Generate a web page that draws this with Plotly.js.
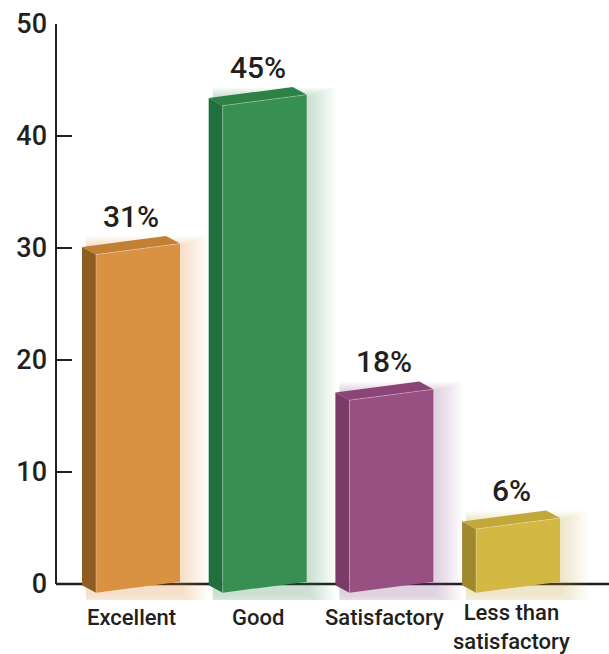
<!DOCTYPE html>
<html>
<head>
<meta charset="utf-8">
<script src="https://cdn.plot.ly/plotly-3.0.1.min.js"></script>
<style>html,body{margin:0;padding:0;background:#fff;}#chart{width:609px;height:654px;}</style>
</head>
<body>
<div id="chart"></div>
<script>
// ---- data ----
const categories = ['Excellent', 'Good', 'Satisfactory', 'Less than\nsatisfactory'];
const percentLabels = [31, 45, 18, 6];            // printed labels above bars
const barHeights = [29.9, 43.2, 16.9, 5.4];       // drawn height of bar fronts on the axis
const yTicks = [0, 10, 20, 30, 40, 50];

// ---- colours ----
const frontColors = ['#D99142', '#378F52', '#984F82', '#D3B844'];
const sideColors  = ['#8F5C24', '#1F703C', '#793A67', '#9E892E'];
const topColors   = ['#C18034', '#2D8046', '#8A4476', '#C2A73A'];
const glowRGB     = ['217,145,66', '55,143,82', '152,79,130', '211,184,68'];
const ink = '#231f20';

// ---- geometry helpers (pixel sizes converted into axis units) ----
const PXX = 126.7, PXY = 11.2;
const ux = p => p / PXX, uy = p => p / PXY;
const FL = ux(35), FR = ux(49), SL = uy(5.5), YB = -uy(3.25), DX = -ux(14), DY = uy(7.6);

const traces = [];
function poly(xs, ys, fill) {
  traces.push({
    type: 'scatter', mode: 'lines', x: xs.concat([xs[0]]), y: ys.concat([ys[0]]),
    fill: 'toself', fillcolor: fill, line: {width: 0, color: fill},
    hoverinfo: 'skip', showlegend: false
  });
}

barHeights.forEach((h, i) => {
  const l = i - FL, r = i + FR;
  // soft glow, mostly to the right and below
  for (let k = 8; k >= 1; k--) {
    const gx0 = l + DX + ux(4), gx1 = r + ux(3.5 * k);
    const gy0 = YB - SL - uy(2.5 * k), gy1 = h + SL + DY - uy(10) + uy(1.2 * k);
    poly([gx0, gx1, gx1, gx0], [gy0, gy0, gy1, gy1], 'rgba(' + glowRGB[i] + ',0.035)');
  }
});
barHeights.forEach((h, i) => {
  const l = i - FL, r = i + FR;
  poly([l, l, l + DX, l + DX], [YB - SL, h - SL, h - SL + DY, YB - SL + DY], sideColors[i]);
  poly([l, r, r + DX, l + DX], [h - SL, h + SL, h + SL + DY, h - SL + DY], topColors[i]);
  poly([l, r, r, l], [YB - SL, YB + SL, h + SL, h - SL], frontColors[i]);
  traces.push({type: 'scatter', mode: 'lines', x: [l, l, r], y: [YB - SL, h - SL, h + SL],
    line: {width: 1, color: 'rgba(255,255,255,0.3)'}, hoverinfo: 'skip', showlegend: false});
});

const annotations = [];
barHeights.forEach((h, i) => {
  annotations.push({x: i, y: h, xref: 'x', yref: 'y', yshift: 33, showarrow: false,
    text: percentLabels[i] + '%', xanchor: 'center', yanchor: 'middle',
    font: {family: 'Roboto, sans-serif', size: 30, weight: 500, color: ink}});
});
categories.forEach((c, i) => {
  const lines = c.split('\n');
  const n = lines.length;
  const shift = n > 1 ? 29 + (n - 1) * 14.3 : 33.5;
  annotations.push({x: i, y: 0, xref: 'x', yref: 'y', yshift: -shift, showarrow: false,
    text: lines.join('<br>'), xanchor: 'center', yanchor: 'middle', align: 'center',
    font: {family: 'Roboto, sans-serif', size: 22, weight: 500, color: ink}});
});

const layout = {
  width: 609, height: 654,
  margin: {l: 56, r: 0, t: 24, b: 54, pad: 0},
  paper_bgcolor: '#ffffff', plot_bgcolor: '#ffffff',
  showlegend: false,
  xaxis: {range: [-0.592, 3.773], showgrid: false, zeroline: false, showline: false,
    showticklabels: false, ticks: '', fixedrange: true},
  yaxis: {range: [-1.43, 50], tickvals: yTicks, ticktext: yTicks.map(String),
    ticks: 'inside', ticklen: 16, tickwidth: 2, tickcolor: ink,
    showgrid: false, zeroline: false, showline: false, ticklabelstandoff: 8,
    tickfont: {family: 'Roboto, sans-serif', size: 27, weight: 500, color: ink}, fixedrange: true},
  shapes: [
    {type: 'line', xref: 'paper', yref: 'y', x0: 0, x1: 0, y0: 0, y1: 50, line: {color: ink, width: 2}},
    {type: 'line', xref: 'paper', yref: 'y', x0: 0, x1: 1, y0: 0, y1: 0, layer: 'below', line: {color: ink, width: 2.5}}
  ],
  annotations: annotations
};

Plotly.newPlot('chart', traces, layout, {displayModeBar: false, staticPlot: true});
</script>
</body>
</html>
